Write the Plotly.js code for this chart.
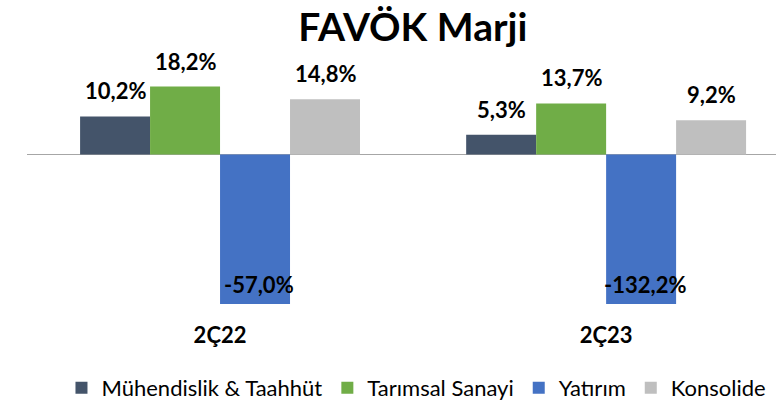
<!DOCTYPE html>
<html><head><meta charset="utf-8">
<script src="https://cdn.plot.ly/plotly-3.0.1.min.js"></script>
<style>html,body{margin:0;padding:0;background:#fff}#chart{width:776px;height:405px}</style>
</head><body><div id="chart"></div>
<script>
const categories = ["2Ç22", "2Ç23"];
const seriesNames = ["Mühendislik & Taahhüt", "Tarımsal Sanayi", "Yatırım", "Konsolide"];
const muhendislik = [10.2, 5.3];
const tarimsal = [18.2, 13.7];
const yatirim = [-57.0, -132.2];
const konsolide = [14.8, 9.2];
const colors = ["#44546A", "#70AD47", "#4472C4", "#BFBFBF"];

const allSeries = [muhendislik, tarimsal, yatirim, konsolide];
const FONT = "Lato, 'Open Sans', sans-serif";
const bargap = 0.275;
const yMin = -40, yMax = 28;

const fmt = v => v.toFixed(1).replace('.', ',') + '%';

const traces = allSeries.map((vals, k) => ({
  type: 'bar', name: seriesNames[k], x: categories, y: vals,
  marker: {color: colors[k]}, hoverinfo: 'skip'
}));

// data labels as annotations, centred over each bar of the group
const annotations = [];
const nS = allSeries.length;
const w = (1 - bargap) / nS;
allSeries.forEach((vals, k) => {
  const off = -(1 - bargap) / 2 + (k + 0.5) * w;
  vals.forEach((v, i) => {
    const neg = v < 0;
    annotations.push({
      xref: 'x', yref: 'y', x: i + off, y: neg ? Math.max(v, yMin) : v,
      text: fmt(v), showarrow: false,
      yanchor: 'bottom', yshift: neg ? 4 : 10, xshift: neg ? 4 : 0,
      font: {family: FONT, size: 22, color: '#000', weight: 'bold'}
    });
  });
});

const layout = {
  width: 776, height: 405,
  margin: {l: 27, r: 0, t: 50, b: 101},
  paper_bgcolor: '#fff', plot_bgcolor: '#fff',
  barmode: 'group', bargap: bargap, bargroupgap: 0,
  title: {text: 'FAVÖK Marji', x: 0.532, xanchor: 'center', y: 0.933, yanchor: 'middle',
          font: {family: FONT, size: 39, color: '#000', weight: 'bold'}},
  xaxis: {type: 'category', range: [-0.5, 1.44], showgrid: false, showline: false,
          ticks: '', ticklabelstandoff: 16,
          tickfont: {family: FONT, size: 22, color: '#000', weight: 'bold'}},
  yaxis: {range: [yMin, yMax], showgrid: false, showticklabels: false, showline: false,
          zeroline: true, zerolinecolor: '#A6A6A6', zerolinewidth: 1.5},
  showlegend: true,
  legend: {orientation: 'h', x: 0.52, xanchor: 'center', yref: 'container', y: 0.042, yanchor: 'middle',
           font: {family: FONT, size: 22, color: '#000'}, itemwidth: 20, tracegroupgap: 0},
  annotations: annotations
};

Plotly.newPlot('chart', traces, layout, {displayModeBar: false, staticPlot: true});
</script></body></html>
